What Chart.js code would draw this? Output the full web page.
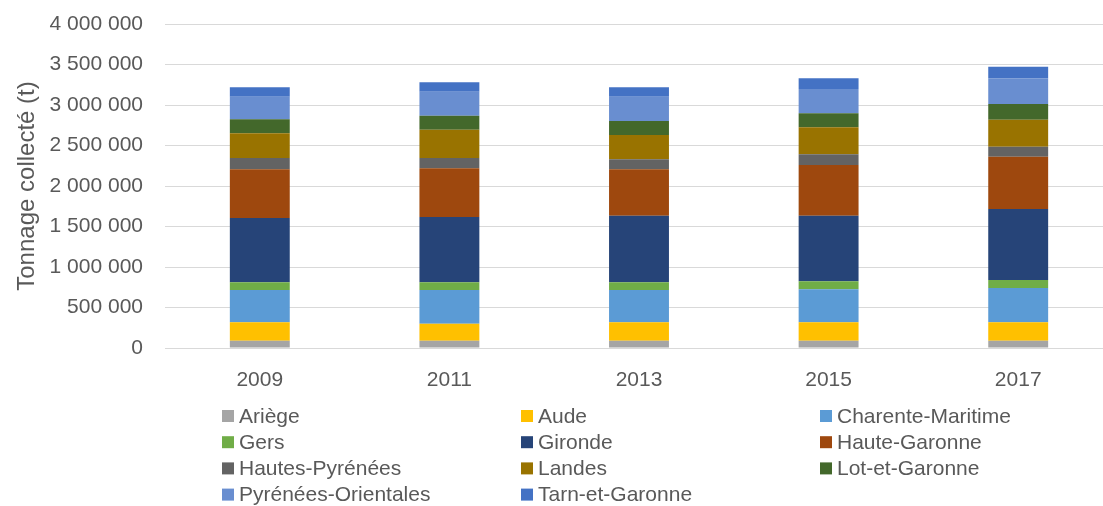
<!DOCTYPE html>
<html lang="fr">
<head>
<meta charset="utf-8">
<title>Tonnage collecté par département</title>
<script src="https://cdn.jsdelivr.net/npm/chart.js@4/dist/chart.umd.min.js"></script>
<style>
  html, body { margin: 0; padding: 0; background: #fff; overflow: hidden; }
  #wrap { position: absolute; left: 0; top: 0; width: 1113px; height: 506px; }
</style>
</head>
<body>
<div id="wrap"><canvas id="chart"></canvas></div>
<script>
// Années de collecte
const years = ['2009', '2011', '2013', '2015', '2017'];

// Tonnage collecté (t) par département
const ariege            = [91000, 91000, 91000, 91000, 91000];
const aude              = [226000, 209000, 226000, 226000, 226000];
const charenteMaritime  = [399000, 416000, 399000, 407000, 424000];
const gers              = [95000, 95000, 95000, 99000, 99000];
const gironde           = [794000, 806000, 823000, 811000, 876000];
const hauteGaronne      = [601000, 601000, 572000, 625000, 646000];
const hautesPyrenees    = [140000, 128000, 123000, 132000, 124000];
const landes            = [304000, 349000, 301000, 333000, 333000];
const lotEtGaronne      = [173000, 173000, 172000, 173000, 193000];
const pyreneesOrientales= [280000, 297000, 301000, 301000, 317000];
const tarnEtGaronne     = [115000, 115000, 115000, 131000, 144000];

// Graduations de l'axe des ordonnées
const yTicks = [0, 500000, 1000000, 1500000, 2000000, 2500000, 3000000, 3500000, 4000000];

const departements = [
  ['Ariège', ariege, '#A5A5A5'],
  ['Aude', aude, '#FFC000'],
  ['Charente-Maritime', charenteMaritime, '#5B9BD5'],
  ['Gers', gers, '#70AD47'],
  ['Gironde', gironde, '#264478'],
  ['Haute-Garonne', hauteGaronne, '#9E480E'],
  ['Hautes-Pyrénées', hautesPyrenees, '#636363'],
  ['Landes', landes, '#997300'],
  ['Lot-et-Garonne', lotEtGaronne, '#43682B'],
  ['Pyrénées-Orientales', pyreneesOrientales, '#698ED0'],
  ['Tarn-et-Garonne', tarnEtGaronne, '#4472C4']
];

const FONT = '"Liberation Sans", Arial, sans-serif';
const TEXT = '#595959';

function groupThousands(v) {
  return String(v).replace(/\B(?=(\d{3})+(?!\d))/g, '\u00a0');
}

// Légende en grille de trois colonnes sous le graphique
const gridLegend = {
  id: 'gridLegend',
  afterDraw(chart) {
    const ctx = chart.ctx;
    const colX = [222, 521, 820];
    const rowY0 = 416, rowStep = 26.2, box = 12;
    ctx.save();
    ctx.font = '21px ' + FONT;
    ctx.textBaseline = 'middle';
    ctx.textAlign = 'left';
    chart.data.datasets.forEach((ds, i) => {
      const col = i % 3, row = Math.floor(i / 3);
      const x = colX[col], y = rowY0 + row * rowStep;
      ctx.fillStyle = ds.backgroundColor;
      ctx.fillRect(x, y - box / 2, box, box);
      ctx.fillStyle = TEXT;
      ctx.fillText(ds.label, x + 17, y + 1);
    });
    ctx.restore();
  }
};

new Chart(document.getElementById('chart'), {
  type: 'bar',
  data: {
    labels: years,
    datasets: departements.map(([label, data, color]) => ({
      label, data,
      backgroundColor: color,
      borderWidth: 0,
      categoryPercentage: 1,
      barPercentage: 0.316
    }))
  },
  options: {
    responsive: true,
    maintainAspectRatio: false,
    animation: false,
    layout: { padding: { top: 24, right: 0, left: 0, bottom: 0 } },
    plugins: {
      legend: { display: false },
      tooltip: { enabled: false }
    },
    scales: {
      x: {
        stacked: true,
        grid: { display: false },
        border: { display: false },
        ticks: { color: TEXT, font: { family: FONT, size: 21 }, padding: 12 },
        afterFit(scale) { scale.height = 158; }
      },
      y: {
        stacked: true,
        min: 0,
        max: 4000000,
        afterBuildTicks(scale) { scale.ticks = yTicks.map(v => ({ value: v })); },
        grid: {
          color: '#D9D9D9',
          lineWidth: 1,
          drawTicks: true,
          tickLength: 22,
          tickColor: 'rgba(0,0,0,0)'
        },
        border: { display: false },
        ticks: {
          color: TEXT,
          font: { family: FONT, size: 21 },
          padding: 0,
          callback: v => groupThousands(v)
        },
        title: {
          display: true,
          text: 'Tonnage collecté (t)',
          color: TEXT,
          font: { family: FONT, size: 24 },
          padding: { top: 13, bottom: 0 }
        },
        afterFit(scale) { scale.width = 165; }
      }
    }
  },
  plugins: [gridLegend]
});
</script>
</body>
</html>
